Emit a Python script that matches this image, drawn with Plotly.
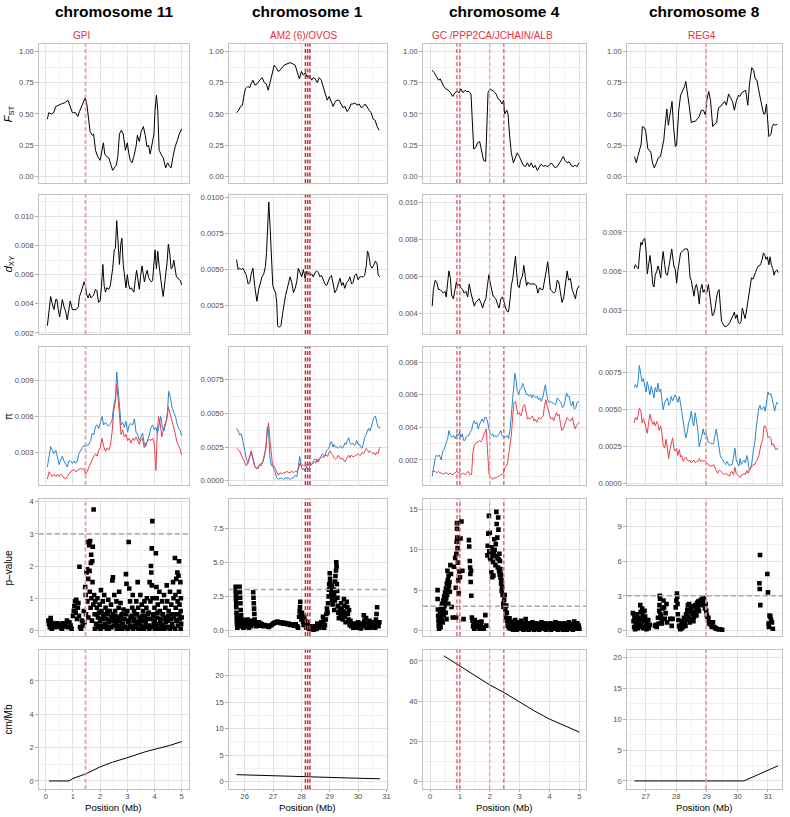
import plotly.graph_objects as go

W, H = 790, 817

# ---------------- data ----------------
chrom_titles = ["chromosome 11", "chromosome 1", "chromosome 4", "chromosome 8"]
gene_labels = ["GPI", "AM2 (6)/OVOS", "GC /PPP2CA/JCHAIN/ALB", "REG4"]
gene_label_pos = [1.32, 28.10, 2.09, 28.83]
gene_lines = [[1.46], [28.14, 28.22, 28.30], [0.90, 1.00, 2.00, 2.47], [28.97]]
row_titles = ["<i>F</i><sub>ST</sub>", "<i>d</i><sub>XY</sub>", "π", "p–value", "cm/Mb"]
pval_threshold = 3

# F_ST
chr11_fst = [(0.06,.46),(0.11,.51),(0.21,.50),(0.29,.51),(0.37,.56),(0.45,.57),(0.57,.58),(0.70,.59),(0.82,.61),(0.88,.57),(0.98,.51),(1.10,.51),(1.18,.48),(1.24,.52),(1.34,.58),(1.45,.63),(1.51,.58),(1.56,.49),(1.63,.36),(1.71,.33),(1.76,.34),(1.83,.21),(1.91,.16),(2.00,.13),(2.07,.21),(2.12,.27),(2.17,.18),(2.24,.16),(2.32,.15),(2.38,.11),(2.46,.05),(2.52,.07),(2.59,.09),(2.65,.16),(2.71,.34),(2.78,.37),(2.85,.34),(2.93,.21),(3.00,.27),(3.05,.19),(3.11,.13),(3.17,.11),(3.24,.16),(3.32,.24),(3.37,.33),(3.44,.28),(3.51,.36),(3.59,.40),(3.66,.33),(3.72,.24),(3.78,.25),(3.84,.18),(3.90,.24),(3.98,.34),(4.02,.53),(4.07,.65),(4.12,.53),(4.17,.21),(4.24,.18),(4.32,.15),(4.41,.07),(4.48,.11),(4.56,.08),(4.61,.07),(4.68,.16),(4.76,.24),(4.84,.29),(4.91,.34),(5.00,.38)]
chr1_fst = [(25.71,.51),(25.79,.53),(25.85,.56),(25.92,.57),(25.96,.63),(26.02,.70),(26.11,.72),(26.18,.71),(26.22,.74),(26.29,.77),(26.36,.73),(26.43,.74),(26.53,.77),(26.62,.79),(26.69,.75),(26.76,.74),(26.83,.69),(26.90,.75),(26.97,.81),(27.04,.89),(27.11,.87),(27.18,.84),(27.25,.85),(27.32,.87),(27.39,.89),(27.49,.90),(27.60,.91),(27.70,.90),(27.78,.89),(27.86,.83),(27.93,.78),(28.00,.84),(28.07,.81),(28.14,.83),(28.21,.79),(28.28,.81),(28.36,.77),(28.42,.79),(28.49,.78),(28.56,.75),(28.63,.79),(28.70,.77),(28.77,.71),(28.84,.67),(28.91,.61),(28.98,.64),(29.05,.60),(29.12,.56),(29.19,.60),(29.26,.61),(29.33,.61),(29.40,.58),(29.47,.55),(29.54,.56),(29.61,.52),(29.68,.54),(29.75,.58),(29.82,.58),(29.89,.59),(29.96,.57),(30.04,.58),(30.11,.55),(30.18,.56),(30.25,.58),(30.32,.55),(30.39,.53),(30.46,.51),(30.53,.46),(30.60,.45),(30.67,.40),(30.74,.37)]
chr4_fst = [(0.07,.85),(0.14,.83),(0.21,.80),(0.28,.77),(0.34,.78),(0.40,.75),(0.46,.72),(0.53,.70),(0.61,.69),(0.68,.67),(0.76,.64),(0.83,.67),(0.90,.68),(0.97,.67),(1.03,.70),(1.10,.67),(1.17,.69),(1.23,.68),(1.30,.68),(1.37,.66),(1.42,.45),(1.46,.22),(1.52,.23),(1.59,.27),(1.66,.28),(1.72,.20),(1.79,.13),(1.86,.12),(1.90,.34),(1.94,.67),(2.01,.70),(2.08,.69),(2.14,.68),(2.21,.66),(2.28,.62),(2.34,.61),(2.41,.58),(2.46,.61),(2.50,.50),(2.57,.53),(2.61,.50),(2.66,.34),(2.72,.19),(2.79,.11),(2.86,.15),(2.92,.19),(2.99,.16),(3.06,.12),(3.12,.09),(3.19,.08),(3.26,.11),(3.32,.08),(3.39,.11),(3.46,.07),(3.52,.09),(3.59,.05),(3.66,.08),(3.72,.10),(3.79,.08),(3.86,.09),(3.92,.08),(3.99,.09),(4.06,.11),(4.12,.09),(4.19,.07),(4.26,.08),(4.32,.10),(4.39,.13),(4.46,.16),(4.52,.13),(4.59,.11),(4.66,.12),(4.72,.09),(4.79,.08),(4.86,.09),(4.92,.08),(4.99,.11)]
chr8_fst = [(26.63,.16),(26.69,.11),(26.74,.16),(26.79,.21),(26.85,.26),(26.89,.40),(26.96,.39),(27.00,.36),(27.07,.22),(27.13,.21),(27.17,.19),(27.22,.11),(27.28,.07),(27.35,.11),(27.41,.15),(27.48,.16),(27.52,.20),(27.59,.29),(27.63,.40),(27.69,.54),(27.74,.41),(27.80,.52),(27.86,.60),(27.91,.40),(27.97,.24),(28.01,.25),(28.08,.53),(28.14,.65),(28.21,.69),(28.27,.72),(28.31,.76),(28.36,.65),(28.42,.57),(28.49,.43),(28.55,.44),(28.62,.44),(28.69,.46),(28.75,.48),(28.82,.53),(28.89,.53),(28.95,.49),(29.00,.61),(29.06,.68),(29.12,.61),(29.19,.40),(29.25,.42),(29.32,.43),(29.38,.55),(29.45,.56),(29.51,.58),(29.58,.60),(29.64,.57),(29.71,.66),(29.77,.63),(29.84,.60),(29.90,.53),(29.97,.61),(30.04,.65),(30.08,.64),(30.14,.67),(30.21,.68),(30.27,.69),(30.34,.57),(30.40,.75),(30.47,.87),(30.53,.85),(30.58,.78),(30.64,.77),(30.69,.70),(30.75,.61),(30.82,.54),(30.86,.50),(30.90,.50),(30.95,.58),(30.99,.46),(31.03,.32),(31.10,.34),(31.14,.40),(31.18,.42),(31.23,.41),(31.31,.42)]

# d_XY
chr11_dxy = [(0.06,.0025),(0.12,.0035),(0.18,.0045),(0.24,.0040),(0.30,.0036),(0.37,.0043),(0.41,.0043),(0.46,.0036),(0.51,.0031),(0.57,.0038),(0.61,.0043),(0.67,.0038),(0.73,.0035),(0.79,.0029),(0.85,.0036),(0.90,.0042),(0.98,.0036),(1.05,.0036),(1.12,.0036),(1.20,.0038),(1.24,.0045),(1.30,.0048),(1.37,.0052),(1.41,.0055),(1.46,.0052),(1.51,.0046),(1.56,.0044),(1.61,.0047),(1.66,.0044),(1.71,.0045),(1.76,.0046),(1.83,.0050),(1.88,.0049),(1.94,.0041),(2.00,.0042),(2.05,.0052),(2.10,.0067),(2.15,.0052),(2.20,.0048),(2.24,.0051),(2.32,.0050),(2.37,.0052),(2.41,.0057),(2.46,.0064),(2.52,.0077),(2.56,.0078),(2.61,.0097),(2.66,.0083),(2.71,.0067),(2.76,.0081),(2.80,.0085),(2.85,.0067),(2.90,.0060),(2.95,.0051),(3.00,.0060),(3.05,.0053),(3.10,.0050),(3.15,.0051),(3.20,.0049),(3.24,.0048),(3.29,.0056),(3.34,.0063),(3.39,.0057),(3.44,.0050),(3.49,.0059),(3.54,.0066),(3.59,.0060),(3.63,.0055),(3.68,.0060),(3.73,.0063),(3.78,.0058),(3.83,.0056),(3.88,.0055),(3.93,.0056),(3.98,.0069),(4.02,.0077),(4.07,.0064),(4.12,.0076),(4.17,.0066),(4.22,.0057),(4.27,.0051),(4.32,.0045),(4.37,.0052),(4.41,.0058),(4.46,.0068),(4.51,.0081),(4.56,.0075),(4.61,.0064),(4.66,.0065),(4.71,.0070),(4.76,.0063),(4.80,.0059),(4.88,.0057),(4.95,.0056),(5.00,.0053)]
chr1_dxy = [(25.71,.0057),(25.77,.0050),(25.82,.0051),(25.88,.0050),(25.94,.0051),(26.00,.0049),(26.06,.0046),(26.12,.0040),(26.18,.0041),(26.23,.0047),(26.29,.0051),(26.35,.0039),(26.40,.0030),(26.43,.0028),(26.49,.0036),(26.55,.0041),(26.61,.0045),(26.67,.0047),(26.73,.0052),(26.77,.0062),(26.82,.0083),(26.85,.0097),(26.90,.0078),(26.95,.0048),(26.99,.0039),(27.04,.0036),(27.09,.0034),(27.13,.0027),(27.16,.0011),(27.22,.0010),(27.28,.0011),(27.34,.0020),(27.39,.0027),(27.44,.0032),(27.49,.0036),(27.54,.0040),(27.60,.0045),(27.66,.0041),(27.72,.0034),(27.78,.0037),(27.84,.0042),(27.89,.0051),(27.95,.0048),(28.01,.0045),(28.07,.0050),(28.13,.0044),(28.19,.0049),(28.25,.0047),(28.30,.0046),(28.36,.0047),(28.42,.0045),(28.48,.0048),(28.54,.0049),(28.60,.0048),(28.65,.0045),(28.71,.0046),(28.77,.0043),(28.83,.0040),(28.89,.0039),(28.95,.0042),(29.01,.0045),(29.06,.0046),(29.12,.0041),(29.18,.0034),(29.24,.0036),(29.30,.0041),(29.36,.0044),(29.42,.0039),(29.47,.0041),(29.53,.0037),(29.59,.0041),(29.65,.0042),(29.71,.0045),(29.77,.0040),(29.82,.0041),(29.88,.0046),(29.94,.0047),(30.00,.0043),(30.06,.0045),(30.12,.0045),(30.18,.0045),(30.23,.0046),(30.29,.0053),(30.33,.0063),(30.37,.0061),(30.43,.0053),(30.49,.0051),(30.55,.0053),(30.61,.0056),(30.67,.0054),(30.71,.0046),(30.77,.0045)]
chr4_dxy = [(0.07,.0044),(0.11,.0053),(0.17,.0058),(0.22,.0057),(0.28,.0053),(0.33,.0053),(0.39,.0052),(0.44,.0051),(0.50,.0052),(0.54,.0049),(0.59,.0057),(0.63,.0063),(0.68,.0059),(0.72,.0050),(0.78,.0048),(0.83,.0052),(0.88,.0057),(0.92,.0055),(0.98,.0056),(1.03,.0054),(1.09,.0053),(1.14,.0051),(1.20,.0052),(1.26,.0049),(1.31,.0056),(1.37,.0051),(1.42,.0048),(1.48,.0044),(1.53,.0046),(1.59,.0047),(1.64,.0048),(1.70,.0046),(1.76,.0043),(1.81,.0046),(1.87,.0048),(1.92,.0055),(1.97,.0061),(2.01,.0057),(2.06,.0053),(2.10,.0050),(2.14,.0049),(2.20,.0048),(2.26,.0045),(2.31,.0043),(2.37,.0048),(2.42,.0049),(2.48,.0046),(2.53,.0043),(2.59,.0041),(2.63,.0041),(2.68,.0048),(2.72,.0055),(2.77,.0059),(2.81,.0065),(2.86,.0071),(2.90,.0062),(2.94,.0055),(2.99,.0054),(3.03,.0058),(3.09,.0060),(3.14,.0066),(3.19,.0060),(3.23,.0055),(3.28,.0057),(3.33,.0056),(3.39,.0056),(3.44,.0056),(3.50,.0056),(3.56,.0055),(3.61,.0051),(3.67,.0054),(3.72,.0053),(3.78,.0053),(3.83,.0057),(3.89,.0063),(3.94,.0068),(3.99,.0058),(4.03,.0053),(4.09,.0052),(4.14,.0051),(4.20,.0052),(4.26,.0058),(4.31,.0057),(4.37,.0051),(4.42,.0046),(4.48,.0049),(4.53,.0055),(4.59,.0063),(4.64,.0058),(4.70,.0059),(4.76,.0053),(4.81,.0051),(4.87,.0048),(4.92,.0053),(4.99,.0055)]
chr8_dxy = [(26.62,.0062),(26.66,.0065),(26.71,.0063),(26.76,.0062),(26.80,.0074),(26.84,.0082),(26.88,.0080),(26.92,.0084),(26.97,.0085),(27.01,.0076),(27.05,.0058),(27.10,.0068),(27.14,.0072),(27.18,.0064),(27.23,.0050),(27.27,.0048),(27.31,.0057),(27.36,.0060),(27.40,.0064),(27.44,.0061),(27.49,.0055),(27.53,.0067),(27.57,.0075),(27.62,.0065),(27.66,.0058),(27.71,.0057),(27.75,.0064),(27.79,.0068),(27.85,.0077),(27.88,.0070),(27.92,.0064),(27.97,.0061),(28.01,.0051),(28.05,.0060),(28.10,.0070),(28.14,.0074),(28.19,.0075),(28.23,.0076),(28.27,.0077),(28.31,.0077),(28.36,.0077),(28.39,.0075),(28.45,.0055),(28.49,.0053),(28.53,.0046),(28.58,.0041),(28.62,.0048),(28.66,.0050),(28.71,.0044),(28.75,.0035),(28.79,.0046),(28.84,.0050),(28.88,.0044),(28.92,.0046),(28.96,.0043),(29.00,.0044),(29.05,.0050),(29.09,.0041),(29.14,.0033),(29.18,.0026),(29.22,.0027),(29.27,.0032),(29.31,.0039),(29.35,.0044),(29.40,.0046),(29.44,.0034),(29.48,.0022),(29.53,.0020),(29.58,.0018),(29.64,.0018),(29.69,.0019),(29.75,.0021),(29.80,.0023),(29.85,.0026),(29.90,.0029),(29.94,.0024),(29.99,.0027),(30.03,.0021),(30.07,.0020),(30.12,.0022),(30.16,.0032),(30.20,.0028),(30.25,.0024),(30.29,.0029),(30.33,.0036),(30.38,.0044),(30.42,.0048),(30.46,.0055),(30.51,.0054),(30.55,.0056),(30.59,.0059),(30.64,.0062),(30.68,.0064),(30.72,.0064),(30.77,.0066),(30.81,.0069),(30.85,.0074),(30.90,.0072),(30.94,.0069),(30.98,.0071),(31.03,.0065),(31.07,.0071),(31.11,.0065),(31.16,.0062),(31.20,.0057),(31.24,.0060),(31.29,.0061),(31.33,.0059)]

# pi (blue and red populations)
chr11_pi_blue = [(0.06,.0018),(0.12,.0025),(0.18,.0035),(0.24,.0032),(0.30,.0029),(0.37,.0032),(0.43,.0027),(0.49,.0020),(0.55,.0024),(0.61,.0027),(0.67,.0023),(0.73,.0021),(0.79,.0018),(0.85,.0023),(0.91,.0023),(0.98,.0021),(1.04,.0023),(1.10,.0021),(1.16,.0023),(1.22,.0029),(1.28,.0032),(1.34,.0034),(1.40,.0036),(1.46,.0035),(1.52,.0036),(1.59,.0037),(1.65,.0040),(1.71,.0046),(1.77,.0045),(1.83,.0052),(1.89,.0053),(1.95,.0050),(2.01,.0055),(2.07,.0060),(2.13,.0053),(2.20,.0055),(2.26,.0053),(2.32,.0052),(2.38,.0054),(2.44,.0057),(2.50,.0069),(2.56,.0075),(2.61,.0097),(2.66,.0083),(2.71,.0065),(2.77,.0053),(2.83,.0055),(2.89,.0051),(2.95,.0056),(3.01,.0047),(3.07,.0053),(3.13,.0054),(3.20,.0053),(3.26,.0058),(3.32,.0047),(3.38,.0045),(3.44,.0040),(3.50,.0043),(3.56,.0046),(3.62,.0038),(3.68,.0035),(3.74,.0040),(3.80,.0044),(3.87,.0051),(3.93,.0053),(3.99,.0049),(4.05,.0051),(4.11,.0046),(4.17,.0055),(4.23,.0060),(4.29,.0051),(4.35,.0048),(4.41,.0054),(4.48,.0064),(4.52,.0081),(4.59,.0075),(4.65,.0067),(4.71,.0063),(4.77,.0060),(4.83,.0054),(4.89,.0050),(4.95,.0048),(5.00,.0044)]
chr11_pi_red = [(0.06,.0008),(0.12,.0014),(0.18,.0012),(0.24,.0010),(0.30,.0012),(0.37,.0010),(0.43,.0012),(0.49,.0010),(0.55,.0012),(0.61,.0011),(0.67,.0009),(0.73,.0008),(0.79,.0010),(0.85,.0012),(0.91,.0014),(0.98,.0015),(1.04,.0016),(1.10,.0014),(1.16,.0015),(1.22,.0016),(1.28,.0017),(1.34,.0016),(1.40,.0017),(1.46,.0012),(1.52,.0014),(1.59,.0018),(1.65,.0021),(1.71,.0025),(1.77,.0027),(1.83,.0029),(1.89,.0027),(1.95,.0032),(2.01,.0034),(2.07,.0042),(2.13,.0035),(2.20,.0031),(2.26,.0034),(2.32,.0032),(2.38,.0036),(2.44,.0047),(2.50,.0065),(2.56,.0072),(2.61,.0087),(2.66,.0075),(2.71,.0060),(2.77,.0045),(2.83,.0049),(2.89,.0043),(2.95,.0045),(3.01,.0040),(3.07,.0042),(3.13,.0038),(3.20,.0042),(3.26,.0040),(3.32,.0043),(3.38,.0040),(3.44,.0037),(3.50,.0041),(3.56,.0042),(3.62,.0034),(3.68,.0038),(3.74,.0039),(3.80,.0041),(3.87,.0040),(3.93,.0042),(3.99,.0038),(4.05,.0015),(4.10,.0046),(4.15,.0060),(4.21,.0054),(4.27,.0043),(4.33,.0050),(4.39,.0054),(4.45,.0057),(4.51,.0068),(4.57,.0063),(4.63,.0056),(4.70,.0051),(4.76,.0046),(4.82,.0039),(4.88,.0036),(4.94,.0033),(5.00,.0028)]
chr1_pi_blue = [(25.71,.0039),(25.77,.0037),(25.82,.0034),(25.88,.0035),(25.94,.0029),(26.00,.0022),(26.06,.0016),(26.12,.0013),(26.18,.0017),(26.23,.0022),(26.29,.0016),(26.35,.0011),(26.41,.0009),(26.47,.0009),(26.53,.0012),(26.58,.0011),(26.64,.0014),(26.70,.0018),(26.75,.0027),(26.80,.0040),(26.84,.0038),(26.89,.0017),(26.94,.0011),(26.98,.0012),(27.03,.0008),(27.08,.0006),(27.13,.0002),(27.19,.0001),(27.25,.0002),(27.31,.0002),(27.37,.0001),(27.43,.0002),(27.49,.0002),(27.54,.0002),(27.60,.0001),(27.66,.0002),(27.72,.0002),(27.78,.0004),(27.84,.0003),(27.89,.0009),(27.94,.0018),(27.99,.0011),(28.04,.0008),(28.08,.0009),(28.13,.0007),(28.18,.0011),(28.22,.0008),(28.27,.0009),(28.32,.0012),(28.36,.0012),(28.41,.0014),(28.46,.0016),(28.51,.0016),(28.55,.0014),(28.60,.0015),(28.64,.0017),(28.69,.0018),(28.74,.0020),(28.78,.0019),(28.83,.0018),(28.88,.0022),(28.92,.0023),(28.97,.0024),(29.02,.0028),(29.06,.0029),(29.11,.0025),(29.15,.0027),(29.20,.0025),(29.25,.0025),(29.30,.0024),(29.35,.0025),(29.39,.0026),(29.44,.0024),(29.48,.0025),(29.53,.0028),(29.58,.0027),(29.62,.0030),(29.67,.0032),(29.71,.0028),(29.76,.0027),(29.81,.0028),(29.86,.0026),(29.91,.0027),(29.95,.0030),(30.00,.0027),(30.05,.0027),(30.09,.0025),(30.14,.0024),(30.19,.0028),(30.23,.0032),(30.28,.0034),(30.33,.0037),(30.37,.0039),(30.42,.0037),(30.47,.0040),(30.51,.0043),(30.56,.0047),(30.61,.0048),(30.65,.0045),(30.70,.0040),(30.75,.0039),(30.77,.0040)]
chr1_pi_red = [(25.71,.0024),(25.77,.0023),(25.82,.0022),(25.88,.0019),(25.94,.0016),(26.00,.0013),(26.06,.0011),(26.12,.0014),(26.18,.0018),(26.23,.0022),(26.29,.0017),(26.35,.0011),(26.41,.0009),(26.47,.0010),(26.53,.0012),(26.58,.0013),(26.64,.0014),(26.70,.0020),(26.75,.0024),(26.80,.0037),(26.84,.0043),(26.89,.0030),(26.94,.0017),(26.98,.0012),(27.03,.0011),(27.08,.0009),(27.13,.0006),(27.19,.0004),(27.25,.0006),(27.31,.0005),(27.37,.0006),(27.43,.0006),(27.49,.0007),(27.54,.0006),(27.60,.0006),(27.66,.0007),(27.72,.0006),(27.78,.0007),(27.84,.0007),(27.89,.0008),(27.94,.0013),(27.99,.0011),(28.04,.0012),(28.08,.0011),(28.13,.0011),(28.18,.0012),(28.22,.0011),(28.27,.0012),(28.32,.0013),(28.36,.0012),(28.41,.0013),(28.46,.0014),(28.51,.0013),(28.55,.0016),(28.60,.0014),(28.64,.0016),(28.69,.0017),(28.74,.0018),(28.78,.0017),(28.83,.0019),(28.88,.0019),(28.92,.0018),(28.97,.0021),(29.02,.0022),(29.06,.0020),(29.11,.0019),(29.15,.0017),(29.20,.0016),(29.25,.0017),(29.30,.0019),(29.35,.0017),(29.39,.0016),(29.44,.0017),(29.48,.0016),(29.53,.0014),(29.58,.0016),(29.62,.0017),(29.67,.0019),(29.71,.0017),(29.76,.0019),(29.81,.0018),(29.86,.0018),(29.91,.0019),(29.95,.0019),(30.00,.0020),(30.05,.0019),(30.09,.0019),(30.14,.0021),(30.19,.0020),(30.23,.0022),(30.28,.0024),(30.33,.0023),(30.37,.0021),(30.42,.0022),(30.47,.0021),(30.51,.0020),(30.56,.0021),(30.61,.0019),(30.65,.0021),(30.70,.0020),(30.75,.0024),(30.77,.0025)]
chr4_pi_blue = [(0.07,.0010),(0.11,.0015),(0.17,.0021),(0.21,.0023),(0.26,.0022),(0.31,.0023),(0.37,.0020),(0.42,.0025),(0.48,.0027),(0.53,.0030),(0.59,.0033),(0.63,.0038),(0.68,.0035),(0.73,.0034),(0.79,.0035),(0.84,.0033),(0.90,.0036),(0.94,.0035),(0.99,.0037),(1.03,.0034),(1.08,.0036),(1.12,.0032),(1.17,.0032),(1.21,.0034),(1.26,.0035),(1.30,.0035),(1.34,.0037),(1.39,.0038),(1.43,.0042),(1.48,.0044),(1.52,.0042),(1.57,.0043),(1.61,.0039),(1.66,.0042),(1.70,.0044),(1.74,.0045),(1.79,.0043),(1.83,.0046),(1.88,.0046),(1.92,.0044),(1.97,.0039),(2.01,.0036),(2.06,.0035),(2.10,.0036),(2.14,.0034),(2.19,.0035),(2.23,.0034),(2.28,.0035),(2.32,.0036),(2.37,.0038),(2.41,.0035),(2.46,.0034),(2.50,.0034),(2.54,.0034),(2.59,.0035),(2.63,.0033),(2.68,.0039),(2.72,.0047),(2.77,.0060),(2.81,.0068),(2.84,.0073),(2.88,.0069),(2.92,.0062),(2.97,.0060),(3.01,.0063),(3.06,.0064),(3.10,.0067),(3.14,.0065),(3.19,.0062),(3.23,.0060),(3.28,.0060),(3.32,.0059),(3.37,.0060),(3.41,.0058),(3.46,.0060),(3.50,.0059),(3.54,.0058),(3.59,.0059),(3.63,.0057),(3.68,.0058),(3.72,.0056),(3.77,.0058),(3.81,.0061),(3.86,.0066),(3.90,.0061),(3.94,.0057),(3.99,.0055),(4.03,.0056),(4.08,.0055),(4.12,.0055),(4.17,.0054),(4.21,.0054),(4.26,.0058),(4.30,.0057),(4.34,.0056),(4.39,.0055),(4.43,.0052),(4.48,.0053),(4.52,.0056),(4.57,.0061),(4.61,.0059),(4.66,.0059),(4.70,.0055),(4.74,.0053),(4.79,.0056),(4.83,.0051),(4.88,.0052),(4.92,.0055),(4.99,.0056)]
chr4_pi_red = [(0.07,.0013),(0.11,.0013),(0.17,.0013),(0.22,.0012),(0.28,.0013),(0.33,.0012),(0.39,.0012),(0.44,.0011),(0.50,.0012),(0.56,.0012),(0.61,.0011),(0.67,.0012),(0.72,.0011),(0.78,.0011),(0.83,.0012),(0.89,.0013),(0.94,.0012),(1.00,.0012),(1.06,.0011),(1.11,.0012),(1.17,.0011),(1.22,.0012),(1.28,.0013),(1.33,.0011),(1.39,.0011),(1.43,.0024),(1.48,.0029),(1.52,.0030),(1.57,.0031),(1.61,.0031),(1.66,.0032),(1.70,.0031),(1.74,.0032),(1.79,.0035),(1.83,.0037),(1.88,.0039),(1.92,.0027),(1.97,.0012),(2.01,.0009),(2.06,.0009),(2.10,.0008),(2.14,.0009),(2.19,.0009),(2.23,.0009),(2.28,.0010),(2.32,.0010),(2.37,.0011),(2.41,.0011),(2.46,.0012),(2.50,.0015),(2.54,.0016),(2.59,.0018),(2.63,.0023),(2.68,.0029),(2.72,.0035),(2.77,.0047),(2.81,.0055),(2.86,.0056),(2.90,.0052),(2.94,.0048),(2.99,.0049),(3.03,.0047),(3.08,.0049),(3.12,.0053),(3.17,.0054),(3.21,.0049),(3.26,.0045),(3.30,.0046),(3.34,.0045),(3.39,.0046),(3.43,.0047),(3.48,.0044),(3.52,.0045),(3.57,.0043),(3.61,.0045),(3.66,.0046),(3.70,.0045),(3.74,.0046),(3.79,.0047),(3.83,.0053),(3.88,.0057),(3.92,.0053),(3.97,.0049),(4.01,.0047),(4.06,.0045),(4.10,.0046),(4.14,.0044),(4.19,.0047),(4.23,.0049),(4.28,.0047),(4.32,.0048),(4.37,.0042),(4.41,.0038),(4.46,.0039),(4.50,.0041),(4.54,.0044),(4.59,.0046),(4.63,.0045),(4.68,.0044),(4.72,.0044),(4.77,.0046),(4.81,.0042),(4.86,.0039),(4.90,.0041),(4.94,.0042),(4.99,.0043)]
chr8_pi_blue = [(26.62,.0065),(26.66,.0067),(26.71,.0065),(26.75,.0069),(26.79,.0080),(26.84,.0075),(26.88,.0069),(26.92,.0071),(26.97,.0065),(27.01,.0062),(27.05,.0069),(27.10,.0065),(27.14,.0060),(27.18,.0066),(27.23,.0062),(27.27,.0058),(27.31,.0065),(27.36,.0062),(27.40,.0068),(27.44,.0062),(27.49,.0064),(27.53,.0056),(27.57,.0050),(27.62,.0055),(27.66,.0056),(27.71,.0058),(27.75,.0053),(27.79,.0054),(27.83,.0059),(27.88,.0056),(27.92,.0058),(27.96,.0060),(28.01,.0058),(28.05,.0055),(28.10,.0059),(28.14,.0053),(28.18,.0047),(28.23,.0042),(28.27,.0035),(28.31,.0031),(28.36,.0035),(28.40,.0041),(28.44,.0043),(28.49,.0049),(28.53,.0043),(28.57,.0039),(28.62,.0048),(28.66,.0043),(28.70,.0037),(28.75,.0025),(28.79,.0028),(28.83,.0032),(28.88,.0037),(28.92,.0033),(28.96,.0035),(29.00,.0031),(29.05,.0028),(29.09,.0028),(29.13,.0027),(29.18,.0027),(29.22,.0027),(29.26,.0032),(29.31,.0037),(29.35,.0031),(29.40,.0024),(29.44,.0019),(29.48,.0017),(29.53,.0016),(29.57,.0014),(29.62,.0013),(29.66,.0015),(29.70,.0013),(29.74,.0012),(29.79,.0013),(29.83,.0013),(29.87,.0018),(29.92,.0024),(29.96,.0016),(30.00,.0014),(30.05,.0012),(30.09,.0017),(30.13,.0013),(30.18,.0015),(30.22,.0016),(30.26,.0014),(30.31,.0019),(30.35,.0015),(30.39,.0009),(30.44,.0011),(30.48,.0015),(30.52,.0022),(30.57,.0028),(30.61,.0037),(30.65,.0045),(30.70,.0051),(30.74,.0053),(30.78,.0050),(30.83,.0051),(30.87,.0052),(30.91,.0049),(30.96,.0055),(31.00,.0062),(31.04,.0060),(31.09,.0061),(31.13,.0058),(31.17,.0054),(31.22,.0049),(31.26,.0053),(31.30,.0055),(31.33,.0054)]
chr8_pi_red = [(26.62,.0041),(26.66,.0045),(26.71,.0043),(26.75,.0046),(26.79,.0051),(26.84,.0049),(26.88,.0041),(26.92,.0044),(26.97,.0041),(27.01,.0037),(27.05,.0034),(27.10,.0042),(27.14,.0047),(27.18,.0043),(27.23,.0040),(27.27,.0042),(27.31,.0039),(27.36,.0042),(27.40,.0040),(27.44,.0036),(27.49,.0039),(27.53,.0034),(27.57,.0026),(27.62,.0024),(27.66,.0030),(27.71,.0024),(27.75,.0017),(27.79,.0023),(27.83,.0026),(27.88,.0031),(27.92,.0024),(27.96,.0022),(28.01,.0024),(28.05,.0019),(28.10,.0023),(28.14,.0018),(28.18,.0019),(28.23,.0015),(28.27,.0017),(28.31,.0018),(28.36,.0016),(28.40,.0015),(28.44,.0016),(28.49,.0014),(28.53,.0015),(28.57,.0016),(28.62,.0014),(28.66,.0015),(28.70,.0015),(28.75,.0017),(28.79,.0015),(28.83,.0016),(28.88,.0015),(28.92,.0016),(28.96,.0015),(29.00,.0014),(29.05,.0013),(29.09,.0012),(29.13,.0012),(29.18,.0012),(29.22,.0013),(29.26,.0011),(29.31,.0009),(29.35,.0007),(29.40,.0009),(29.44,.0009),(29.48,.0008),(29.53,.0007),(29.57,.0006),(29.62,.0007),(29.66,.0006),(29.70,.0006),(29.74,.0005),(29.79,.0008),(29.83,.0008),(29.87,.0006),(29.92,.0011),(29.96,.0007),(30.00,.0006),(30.05,.0005),(30.09,.0004),(30.13,.0006),(30.18,.0006),(30.22,.0007),(30.26,.0006),(30.31,.0009),(30.35,.0007),(30.39,.0009),(30.44,.0011),(30.48,.0012),(30.52,.0013),(30.57,.0013),(30.61,.0015),(30.65,.0016),(30.70,.0019),(30.74,.0024),(30.78,.0027),(30.83,.0030),(30.87,.0039),(30.91,.0039),(30.96,.0036),(31.00,.0031),(31.04,.0032),(31.09,.0031),(31.13,.0026),(31.17,.0027),(31.22,.0024),(31.26,.0023),(31.30,.0024),(31.33,.0023)]

# p-values (-log10)
chr11_pval = [(0.10,.3),(0.12,.2),(0.15,.1),(0.18,.38),(0.20,.25),(0.22,.05),(0.25,.15),(0.30,.2),(0.33,.1),(0.36,.18),(0.40,.22),(0.45,.12),(0.50,.2),(0.55,.08),(0.60,.05),(0.63,.22),(0.68,.12),(0.72,.18),(0.78,.3),(0.82,.1),(0.87,.25),(0.92,.15),(0.95,.05),
 (1.00,.45),(1.03,.6),(1.05,.75),(1.08,.9),(1.10,.55),(1.12,.95),(1.15,.35),(1.18,.7),(1.20,.85),(1.22,.45),(1.24,1.98),(1.26,.1),(1.30,.05),(1.33,.3),(1.36,.15),(1.40,.6),(1.42,.25),
 (1.45,1.35),(1.47,1.1),(1.48,.5),(1.50,1.8),(1.52,1.9),(1.53,.9),(1.55,2.75),(1.56,1.6),(1.57,.4),(1.60,2.65),(1.61,1.85),(1.62,1.2),(1.63,2.78),(1.65,.7),(1.66,2.1),(1.67,2.35),(1.68,1.0),(1.70,.3),(1.71,2.15),(1.72,1.5),(1.73,2.6),(1.75,.8),(1.76,3.76),(1.78,1.1),(1.80,.5),(1.82,.9),
 (1.85,.2),(1.88,.7),(1.90,1.0),(1.92,.4),(1.95,.1),(1.98,.8),(2.00,.3),(2.03,1.25),(2.05,.6),(2.08,.15),(2.10,.9),(2.12,.45),(2.15,1.1),(2.18,.2),(2.20,.7),(2.23,.35),(2.25,.05),(2.28,.5),(2.30,.95),(2.33,.25),(2.35,.6),(2.38,.1),(2.40,.8),(2.42,.4),(2.45,1.55),(2.47,1.65),(2.50,.3),(2.52,1.1),(2.55,.6),(2.58,.2),(2.60,.9),
 (2.63,.4),(2.65,.1),(2.68,.7),(2.70,1.2),(2.73,.3),(2.75,.85),(2.78,.05),(2.80,.5),(2.83,.2),(2.86,.65),(2.90,.35),(2.93,.1),(2.95,1.75),(2.97,1.45),(3.00,.6),(3.02,.25),(3.05,2.75),(3.07,1.3),(3.10,.9),(3.12,.4),(3.15,.1),(3.18,.7),(3.20,1.1),(3.23,.3),(3.25,.6),(3.28,.15),(3.30,.5),(3.33,.9),(3.35,.25),(3.38,1.5),(3.40,.7),(3.43,.2),(3.45,.4),(3.48,1.1),(3.50,.05),
 (3.53,.8),(3.55,.3),(3.58,.6),(3.60,.1),(3.63,.9),(3.65,.45),(3.68,.2),(3.70,.7),(3.72,1.0),(3.75,.35),(3.78,.55),(3.80,.15),(3.82,1.5),(3.85,.9),(3.87,2.0),(3.88,1.8),(3.90,1.4),(3.90,2.55),(3.92,3.4),(3.93,1.0),(3.95,.5),(3.97,.2),(4.00,.7),(4.02,.05),(4.05,2.4),(4.07,1.35),(4.08,1.0),(4.10,.4),(4.12,.8),(4.15,.2),(4.18,1.2),(4.20,.6),
 (4.22,.3),(4.25,.05),(4.28,.9),(4.30,.5),(4.32,.15),(4.35,1.1),(4.38,.4),(4.40,.7),(4.42,.25),(4.45,1.4),(4.47,.9),(4.50,.3),(4.52,.6),(4.55,.1),(4.57,1.2),(4.60,.5),(4.62,.8),(4.65,.2),(4.68,1.5),(4.70,1.0),(4.72,.4),(4.75,2.25),(4.77,1.1),(4.78,.7),(4.80,1.6),(4.82,.3),(4.84,1.8),(4.85,.9),(4.87,.5),(4.88,1.7),(4.90,2.15),(4.90,1.2),(4.92,.8),(4.93,.35),(4.95,1.5),(4.96,.6),(4.97,1.0),(4.98,.2),(5.00,.4),
 (1.81,.05),(1.86,.5),(1.91,.15),(1.96,.55),(2.01,.05),(2.06,.35),(2.11,.1),(2.16,.5),(2.21,.15),(2.26,.6),(2.31,.05),(2.36,.3),(2.41,.1),(2.46,.5),(2.51,.15),(2.56,.45),(2.61,.05),(2.66,.3),(2.71,.15),(2.76,.45),(2.81,.05),(2.86,.35),(2.91,.1),(2.96,.5),(3.01,.05),(3.06,.3),(3.11,.15),(3.16,.45),(3.21,.05),(3.26,.35),(3.31,.1),(3.36,.5),(3.41,.05),(3.46,.3),(3.51,.15),(3.56,.45),(3.61,.05),(3.66,.3),(3.71,.1),(3.76,.5),(3.81,.05),(3.86,.35),(3.91,.1),(3.96,.45),(4.01,.3),(4.06,.15),(4.11,.55),(4.16,.05),(4.21,.35),(4.26,.15),(4.31,.5),(4.36,.05),(4.41,.3),(4.46,.1),(4.51,.45),(4.56,.05),(4.61,.35),(4.66,.1),(4.71,.5),(4.76,.05),(4.81,.3),(4.86,.15),(4.91,.5),(4.96,.05)]
chr1_pval = [(25.68,3.2),(25.68,2.9),(25.69,2.6),(25.69,2.3),(25.70,2.0),(25.70,1.7),(25.71,1.3),(25.72,1.0),(25.72,.7),(25.73,.4),(25.74,.2),(25.77,.5),(25.79,.9),(25.80,.3),(25.82,3.2),(25.83,2.8),(25.84,2.4),(25.85,2.0),(25.86,1.5),(25.87,1.1),(25.88,.6),(25.90,.3),(25.92,.8),(25.94,.5),(25.96,.2),(25.98,.6),(26.00,.4),(26.03,.7),(26.05,.3),(26.08,.5),(26.10,.8),(26.12,.4),(26.15,.2),(26.18,.6),(26.20,.5),(26.22,.3),(26.25,.7),(26.28,.45),(26.30,2.8),(26.31,2.4),(26.32,2.0),(26.33,1.6),(26.34,1.2),(26.35,.8),(26.37,.5),(26.40,.3),(26.43,.55),(26.46,.4),(26.50,.6),(26.53,.35),(26.56,.5),(26.60,.45),(26.65,.3),(26.70,.4),(26.75,.35),(26.80,.3),(26.85,.25),(26.90,.35),(26.95,.4),(27.00,.5),(27.05,.55),(27.10,.6),(27.15,.65),(27.20,.6),(27.25,.55),(27.30,.6),(27.35,.5),(27.40,.55),(27.45,.5),(27.50,.45),(27.55,.5),(27.60,.4),(27.65,.45),(27.70,.4),(27.75,.35),(27.80,.45),(27.85,.3),(27.88,.2),(27.92,1.0),(27.94,1.4),(27.95,1.7),(27.96,2.1),(27.98,1.2),(28.00,.8),(28.02,1.3),(28.04,.9),(28.06,.6),(28.08,.4),(28.10,1.0),(28.12,.7),(28.14,.5),(28.16,.3),(28.18,.2),(28.20,.6),(28.22,.4),(28.25,.2),(28.28,.1),(28.30,.3),(28.33,.15),(28.36,.1),(28.40,.2),(28.43,.05),(28.46,.3),(28.50,.15),(28.53,.1),(28.56,.5),(28.60,.3),(28.63,.2),(28.66,.4),(28.70,.6),(28.73,.3),(28.76,1.0),(28.78,.7),(28.80,.2),(28.83,.4),(28.86,.8),(28.88,1.2),(28.90,1.6),(28.92,1.3),(28.94,2.0),(28.96,2.5),(28.97,3.0),(28.98,3.4),(29.00,4.2),(29.01,3.8),(29.02,3.5),(29.03,3.2),(29.05,2.9),(29.06,2.6),(29.07,3.3),(29.08,2.2),(29.10,1.9),(29.12,2.5),(29.13,3.0),(29.15,2.7),(29.16,1.5),(29.18,2.2),(29.19,3.6),(29.20,4.0),(29.22,4.4),(29.23,5.0),(29.24,4.7),(29.25,3.4),(29.26,2.9),(29.27,2.4),(29.28,1.8),(29.30,1.3),(29.32,.9),(29.35,1.5),(29.38,1.1),(29.40,2.0),(29.42,1.6),(29.44,1.2),(29.46,.8),(29.48,1.4),(29.50,2.3),(29.52,1.8),(29.54,1.0),(29.56,.6),(29.58,1.3),(29.60,2.1),(29.62,1.7),(29.64,1.2),(29.66,.8),(29.68,1.5),(29.70,.4),(29.73,.7),(29.76,.3),(29.80,.5),(29.83,.2),(29.86,.4),(29.90,.3),(29.93,.5),(29.96,.2),(30.00,.6),(30.03,.3),(30.06,.4),(30.10,.15),(30.13,.5),(30.16,.3),(30.20,1.1),(30.22,.7),(30.25,.4),(30.28,.9),(30.30,.2),(30.33,.5),(30.36,.3),(30.40,.7),(30.43,.2),(30.46,.4),(30.50,.6),(30.53,.3),(30.56,.5),(30.60,.2),(30.63,.8),(30.65,1.2),(30.67,1.7),(30.70,.5),(30.72,.3),(30.75,.6)]
chr4_pval = [(0.25,5.0),(0.25,3.9),(0.26,2.6),(0.27,1.8),(0.28,1.2),(0.29,.6),(0.30,.2),(0.31,1.5),(0.32,.9),(0.33,2.2),(0.35,.4),(0.36,1.7),(0.38,2.9),(0.39,1.3),(0.40,3.3),(0.41,2.4),(0.42,1.0),(0.44,3.7),(0.45,2.7),(0.46,1.9),(0.47,4.2),(0.48,3.0),(0.50,4.7),(0.51,3.5),(0.52,2.2),(0.53,5.2),(0.54,4.0),(0.55,1.4),(0.56,5.8),(0.57,4.4),(0.58,7.4),(0.59,6.2),(0.60,5.0),(0.61,3.3),(0.62,6.8),(0.63,5.5),(0.65,6.0),(0.66,4.8),(0.68,8.1),(0.70,7.0),(0.72,2.9),(0.76,1.6),(0.80,7.9),(0.84,9.0),(0.86,5.3),(0.87,1.6),(0.88,9.5),(0.89,11.0),(0.90,12.6),(0.90,13.3),(0.91,11.5),(0.92,10.2),(0.93,8.4),(0.94,6.2),(0.96,4.6),(0.98,7.3),(1.00,6.6),(1.02,11.4),(1.05,13.5),(1.08,7.4),(1.12,1.4),(1.30,11.2),(1.31,10.4),(1.33,8.6),(1.34,7.8),(1.35,7.0),(1.36,6.0),(1.37,7.4),(1.38,4.3),(1.40,1.6),(1.42,1.2),(1.44,.5),(1.46,.9),(1.48,.2),(1.50,1.3),(1.53,.7),(1.56,.4),(1.60,1.0),(1.63,.6),(1.66,.2),(1.70,.8),(1.72,1.1),(1.75,.4),(1.80,.2),(1.85,1.9),(1.88,.6),(1.92,9.3),(1.93,10.5),(1.95,12.0),(1.97,14.2),(1.98,9.8),(2.00,12.1),(2.01,9.0),(2.03,8.8),(2.04,9.4),(2.05,7.2),(2.06,10.3),(2.08,6.6),(2.10,9.9),(2.11,8.5),(2.12,6.8),(2.14,9.6),(2.15,11.3),(2.16,10.0),(2.18,9.2),(2.19,8.1),(2.20,10.7),(2.22,14.7),(2.23,13.2),(2.25,11.5),(2.26,9.0),(2.27,7.8),(2.28,14.0),(2.29,12.5),(2.30,8.8),(2.31,7.4),(2.32,9.5),(2.33,6.9),(2.34,8.6),(2.35,7.6),(2.36,6.5),(2.37,7.0),(2.38,5.8),(2.39,6.2),(2.40,4.9),(2.41,5.4),(2.43,4.4),(2.45,3.3),(2.46,2.9),(2.48,3.8),(2.50,4.4),(2.52,2.6),(2.54,1.6),(2.55,3.1),(2.57,2.2),(2.58,1.2),(2.60,.6),(2.62,1.0),(2.64,.3),(2.66,1.5),(2.68,.8),
 (2.70,.2),(2.72,1.1),(2.75,.5),(2.78,.1),(2.80,.9),(2.83,.3),(2.85,1.3),(2.88,.6),(2.90,.1),(2.93,.8),(2.95,.4),(2.98,1.0),(3.00,.2),(3.03,.6),(3.05,1.2),(3.08,.3),(3.10,.7),(3.13,.1),(3.15,.9),(3.18,.4),(3.20,1.4),(3.23,.2),(3.25,.6),(3.28,.9),(3.30,.1),(3.33,.5),(3.35,.8),(3.38,.2),(3.40,.6),(3.43,1.0),(3.45,.3),(3.48,.1),(3.50,.7),(3.53,.4),(3.55,.9),(3.58,.2),(3.60,.5),(3.63,.8),(3.65,.1),(3.68,.6),(3.70,.3),(3.73,1.0),(3.75,.5),(3.78,.2),(3.80,.7),(3.83,.4),(3.85,.9),(3.88,.1),(3.90,.6),(3.93,.3),(3.95,.8),(3.98,.2),(4.00,.5),(4.03,.9),(4.05,.1),(4.08,.6),(4.10,.3),(4.13,.8),(4.15,.2),(4.18,.5),(4.20,1.0),(4.23,.3),(4.25,.7),(4.28,.1),(4.30,.5),(4.33,.9),(4.35,.2),(4.38,.6),(4.40,.4),(4.43,.8),(4.45,.1),(4.48,.5),(4.50,.9),(4.53,.3),(4.55,.6),(4.58,.1),(4.60,.7),(4.63,.4),(4.65,1.0),(4.68,.2),(4.70,.6),(4.73,.3),(4.75,.8),(4.78,.1),(4.80,.5),(4.83,1.1),(4.85,.3),(4.88,.7),(4.90,.2),(4.93,.9),(4.95,.4),(4.98,.6),(5.00,.2)]
chr8_pval = [(26.58,1.5),(26.60,.8),(26.62,.3),(26.63,1.2),(26.65,.1),(26.67,.6),(26.68,1.0),(26.70,.4),(26.72,1.4),(26.74,.2),(26.76,.7),(26.78,1.1),(26.80,.3),(26.82,2.2),(26.83,1.6),(26.85,.5),(26.87,.9),(26.88,1.9),(26.90,1.3),(26.92,.2),(26.94,.8),(26.96,1.7),(26.98,1.2),(27.00,.4),(27.02,.1),(27.04,.6),(27.06,.3),(27.08,.9),(27.10,.2),(27.13,.5),
 (27.30,.4),(27.33,.5),(27.36,.3),(27.40,1.1),(27.42,.6),(27.44,1.7),(27.45,2.2),(27.46,3.0),(27.47,2.75),(27.48,1.4),(27.50,1.2),(27.52,.8),(27.53,.6),(27.55,1.9),(27.58,2.6),(27.60,2.0),(27.62,1.0),(27.65,1.5),(27.68,2.3),(27.70,.7),(27.80,1.0),(27.85,.4),(27.88,1.0),
 (27.98,2.0),(28.00,2.6),(28.02,3.2),(28.03,2.9),(28.04,2.3),(28.05,1.4),(28.07,.9),(28.09,.4),(28.11,.3),(28.13,.1),(28.16,.5),(28.18,.2),(28.20,.8),(28.22,.3),(28.25,1.1),(28.27,.6),(28.30,.4),(28.32,1.4),(28.34,.9),(28.36,1.8),(28.38,2.2),(28.40,1.2),(28.42,2.3),(28.44,.7),(28.46,1.6),(28.48,1.9),(28.50,1.0),(28.52,2.1),(28.54,1.45),(28.56,.8),(28.58,1.2),(28.60,1.6),(28.62,2.2),(28.64,1.9),(28.66,1.3),(28.68,2.4),(28.70,2.0),(28.72,2.5),(28.74,1.7),(28.76,2.3),(28.78,2.6),(28.80,2.2),(28.82,2.5),(28.84,2.75),(28.86,2.6),(28.88,2.3),(28.90,2.8),(28.92,2.5),(28.94,1.9),(28.96,2.3),(28.98,1.7),(29.00,1.3),(29.02,.9),(29.05,1.1),(29.07,.6),(29.10,.7),(29.13,.5),(29.16,.3),(29.20,.7),(29.24,.3),(29.28,.2),(29.32,.15),(29.36,.1),(29.42,.1),(29.50,.06),
 (30.72,4.1),(30.73,3.6),(30.74,6.55),(30.75,2.2),(30.98,4.9),(31.00,3.3),(31.02,.6),(31.03,.3),(31.05,1.3),(31.08,1.2),(31.10,.9),(31.13,.7),(31.16,.15)]

# recombination rate (cM/Mb)
chr11_rec = [(0.12,0.0),(0.85,0.0),(1.00,0.15),(1.49,0.44),(1.98,0.83),(2.46,1.13),(2.95,1.37),(3.68,1.76),(4.54,2.12),(5.00,2.36)]
chr1_rec = [(25.71,1.30),(26.50,1.15),(27.50,0.98),(28.25,0.86),(29.00,0.75),(30.00,0.62),(30.77,0.52)]
chr4_rec = [(0.46,62.5),(1.00,57.5),(1.50,52.5),(2.00,48.0),(2.50,44.0),(3.00,39.5),(3.50,35.0),(4.00,31.0),(4.50,27.8),(5.00,24.5)]
chr8_rec = [(26.63,0.0),(30.21,0.0),(31.33,2.45)]

fst = [chr11_fst, chr1_fst, chr4_fst, chr8_fst]
dxy = [chr11_dxy, chr1_dxy, chr4_dxy, chr8_dxy]
pi_blue = [chr11_pi_blue, chr1_pi_blue, chr4_pi_blue, chr8_pi_blue]
pi_red = [chr11_pi_red, chr1_pi_red, chr4_pi_red, chr8_pi_red]
pval = [chr11_pval, chr1_pval, chr4_pval, chr8_pval]
rec = [chr11_rec, chr1_rec, chr4_rec, chr8_rec]

# x ticks per column
x_tick0 = [0, 26, 0, 27]
# y ticks per (row, col): (tick0, dtick, format)
y_ticks = [
    [(0, .25, ".2f")] * 4,
    [(0, .002, ".3f"), (0, .0025, ".4f"), (0, .002, ".3f"), (0, .003, ".3f")],
    [(0, .003, ".3f"), (0, .0025, ".4f"), (0, .002, ".3f"), (0, .0025, ".4f")],
    [(0, 1, "d"), (0, 2.5, ".1f"), (0, 5, "d"), (0, 3, "d")],
    [(0, 2, "d"), (0, 5, "d"), (0, 20, "d"), (0, 5, "d")],
]

# ---------------- layout geometry / style ----------------
col_px = [(39, 190), (230, 389), (425, 589), (630, 786)]
row_px = [(43, 183), (195, 335), (348, 487), (501, 639), (653, 793)]
x_ranges = [[-0.256, 5.27], [25.44, 31.02], [-0.243, 5.223], [26.38, 31.46]]
y_ranges = [
    [[-0.05, 1.061]] * 4,
    [[0.00193, 0.01148], [0.00053, 0.0102], [0.0029, 0.01041], [0.00123, 0.01182]],
    [[0.0003, 0.01179], [-0.00032, 0.00994], [0.00046, 0.00893], [-0.00009, 0.00925]],
    [[-0.18, 4.09], [-0.42, 9.67], [-0.7, 16.3], [-0.49, 11.41]],
    [[-0.49, 7.85], [-1.44, 24.85], [-3.9, 65.4], [-1.33, 21.2]],
]
gene_line_colors = [["#f19aa5"], ["#d22d3b"] * 3, ["#d6394a", "#d6394a", "#f08d99", "#d6394a"], ["#f19aa5"]]
gene_line_widths = [1.7, 1.5, 1.1, 1.7]

FONT = "Liberation Sans, Arial, sans-serif"
BLUE = "#2b86c9"
RED = "#e8414b"
GRID = "#e3e3e3"
GRID_MINOR = "#f1f1f1"
BORDER = "#c2c2c2"
TICKC = "#4d4d4d"
TICK_SIZE = 7.6

fig = go.Figure()
layout = dict(width=W, height=H, margin=dict(l=0, r=0, t=0, b=0), autosize=False,
              paper_bgcolor="white", plot_bgcolor="white", showlegend=False,
              font=dict(family=FONT, color="black"))
shapes, annotations = [], []


def unzip(pts):
    return [p[0] for p in pts], [p[1] for p in pts]


for r in range(5):
    for c in range(4):
        idx = r * 4 + c + 1
        s = "" if idx == 1 else str(idx)
        xa, ya = "x" + s, "y" + s
        x0, x1 = col_px[c]
        t, b = row_px[r]
        bottom = (r == 4)
        layout["xaxis" + s] = dict(
            domain=[x0 / W, x1 / W], range=x_ranges[c], anchor=ya,
            showline=True, mirror=True, linecolor=BORDER, linewidth=1,
            showgrid=True, gridcolor=GRID, gridwidth=0.9, zeroline=False,
            tickmode="linear", tick0=x_tick0[c], dtick=1,
            minor=dict(tick0=x_tick0[c] - 0.5, dtick=1, showgrid=True, gridcolor=GRID_MINOR, gridwidth=0.6),
            showticklabels=bottom, ticks="outside" if bottom else "", ticklen=2,
            ticklabelstandoff=-2,
            tickcolor="#b0b0b0", tickfont=dict(size=TICK_SIZE, color=TICKC, family=FONT),
        )
        t0, dt, fmt = y_ticks[r][c]
        layout["yaxis" + s] = dict(
            domain=[1 - b / H, 1 - t / H], range=y_ranges[r][c], anchor=xa,
            showline=True, mirror=True, linecolor=BORDER, linewidth=1,
            showgrid=True, gridcolor=GRID, gridwidth=0.9, zeroline=False,
            tickmode="linear", tick0=t0, dtick=dt, tickformat=fmt,
            minor=dict(tick0=t0 + dt / 2, dtick=dt, showgrid=True, gridcolor=GRID_MINOR, gridwidth=0.6),
            ticks="outside", ticklen=2.5, tickcolor="#b0b0b0",
            tickfont=dict(size=TICK_SIZE, color=TICKC, family=FONT),
        )

        if r == 0:
            x, y = unzip(fst[c])
            fig.add_trace(go.Scatter(x=x, y=y, mode="lines", line=dict(color="black", width=1), xaxis=xa, yaxis=ya))
        elif r == 1:
            x, y = unzip(dxy[c])
            fig.add_trace(go.Scatter(x=x, y=y, mode="lines", line=dict(color="black", width=1), xaxis=xa, yaxis=ya))
        elif r == 2:
            x, y = unzip(pi_blue[c])
            fig.add_trace(go.Scatter(x=x, y=y, mode="lines", line=dict(color=BLUE, width=1), xaxis=xa, yaxis=ya))
            x, y = unzip(pi_red[c])
            fig.add_trace(go.Scatter(x=x, y=y, mode="lines", line=dict(color=RED, width=1), xaxis=xa, yaxis=ya))
        elif r == 3:
            x, y = unzip(pval[c])
            fig.add_trace(go.Scatter(x=x, y=y, mode="markers",
                                     marker=dict(symbol="square", size=4.6, color="black", line=dict(width=0)),
                                     xaxis=xa, yaxis=ya))
            shapes.append(dict(type="line", xref=xa + " domain", yref=ya, x0=0, x1=1,
                               y0=pval_threshold, y1=pval_threshold, layer="above",
                               line=dict(color="#a8a8a8", width=1.5, dash="5px,3px")))
        else:
            x, y = unzip(rec[c])
            fig.add_trace(go.Scatter(x=x, y=y, mode="lines", line=dict(color="black", width=1), xaxis=xa, yaxis=ya))

        for g, colr in zip(gene_lines[c], gene_line_colors[c]):
            shapes.append(dict(type="line", xref=xa, yref=ya + " domain", x0=g, x1=g, y0=0, y1=1,
                               layer="above", line=dict(color=colr, width=gene_line_widths[c], dash="4px,2.5px")))

        if r == 0:
            annotations.append(dict(text="<b>" + chrom_titles[c] + "</b>", xref="paper", yref="paper",
                                    x=(x0 + x1) / 2 / W, y=1 - 11 / H, xanchor="center", yanchor="middle",
                                    showarrow=False, font=dict(size=15.5, color="black", family=FONT)))
            annotations.append(dict(text=gene_labels[c], xref=xa, yref="paper",
                                    x=gene_label_pos[c], y=1 - 35 / H, xanchor="center", yanchor="middle",
                                    showarrow=False, font=dict(size=10, color="#e5323d", family=FONT)))
        if bottom:
            annotations.append(dict(text="Position (Mb)", xref="paper", yref="paper",
                                    x=(x0 + x1) / 2 / W, y=1 - 811.5 / H, xanchor="center", yanchor="middle",
                                    showarrow=False, font=dict(size=9.6, color="black", family=FONT)))
    t, b = row_px[r]
    annotations.append(dict(text=row_titles[r], xref="paper", yref="paper", x=9 / W, y=1 - (t + b) / 2 / H,
                            xanchor="center", yanchor="middle", textangle=-90, showarrow=False,
                            font=dict(size=11 if r < 2 else 10, color="black", family=FONT)))

layout["shapes"] = shapes
layout["annotations"] = annotations
fig.update_layout(**layout)
fig.write_html("out.html", config={"displayModeBar": False},
               post_script="document.body.style.margin='0';document.body.style.padding='0';"
                           "document.body.style.overflow='hidden';")
